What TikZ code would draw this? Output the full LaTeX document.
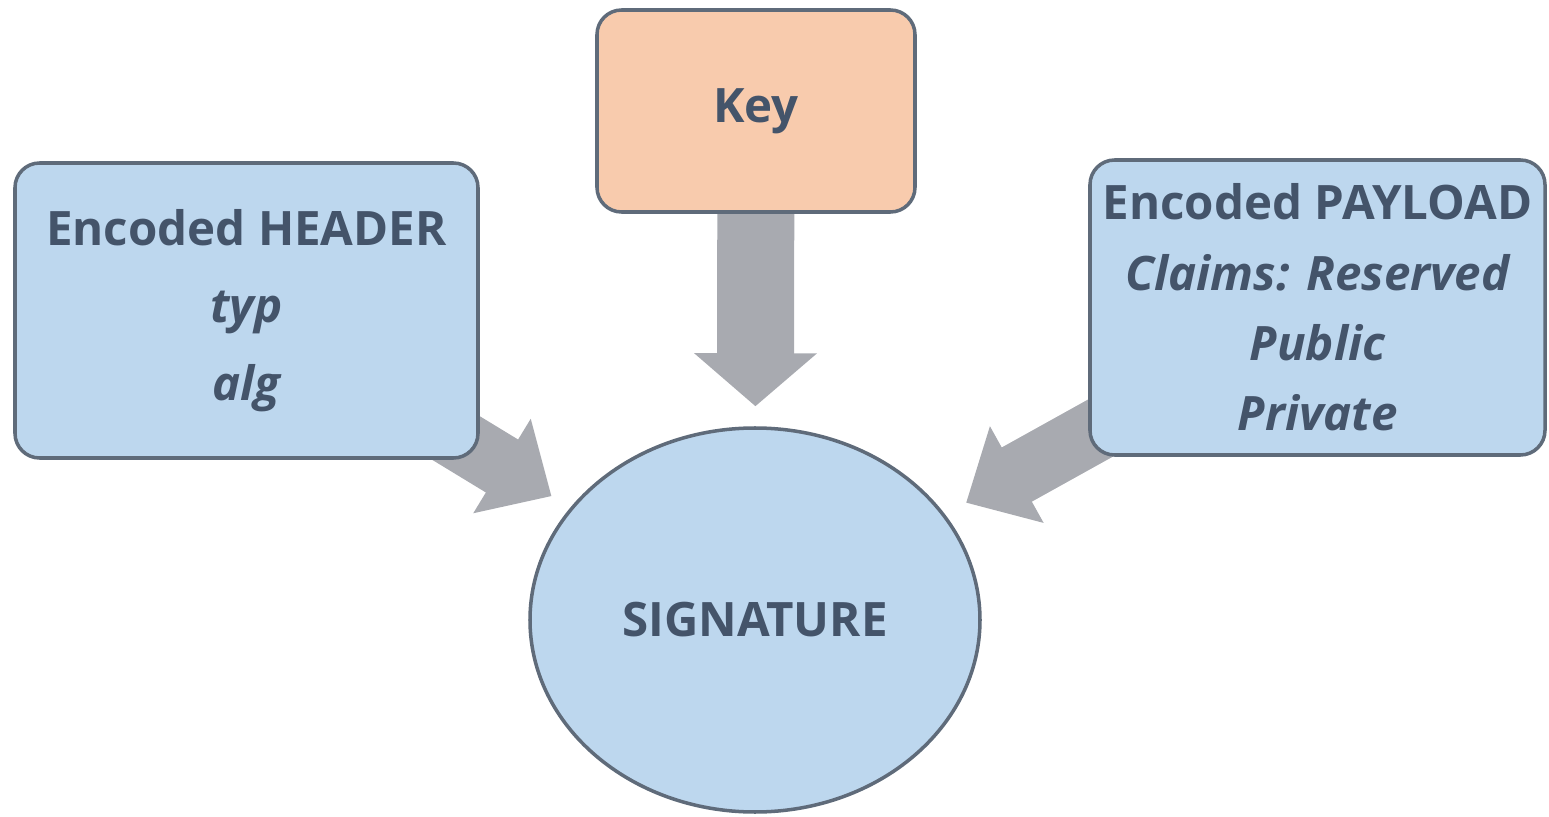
\documentclass[tikz,border=0pt]{standalone}
\usepackage{fontspec}
\setmainfont{Open Sans}
\usetikzlibrary{arrows.meta, backgrounds, shapes.geometric}
\definecolor{boxblue}{HTML}{BDD7EE}
\definecolor{keypeach}{HTML}{F8CBAD}
\definecolor{edgegray}{HTML}{5F6B7A}
\definecolor{textslate}{HTML}{44546A}
\definecolor{arrowgray}{HTML}{A8AAB0}

\begin{document}
\begin{tikzpicture}[
    box/.style={
        rectangle, rounded corners=7pt,
        draw=edgegray, line width=1pt, fill=#1,
        font=\bfseries\fontsize{13.5}{20}\selectfont, text=textslate, align=center
    },
    bigarrow/.style n args={4}{
        line width=#1, draw=arrowgray,
        -{Triangle[width=#2, length=#3]}, shorten >=#4
    }
]
\useasboundingbox (0,0) rectangle (15.49,8.16);

% Nodes
\node[box=boxblue, minimum width=4.63cm, minimum height=2.95cm] (header) at (2.465,5.055)
    {Encoded HEADER\\[2pt] \itshape typ\\[2pt] \itshape alg};

\node[box=keypeach, minimum width=3.18cm, minimum height=2.02cm] (key) at (7.56,7.05) {Key};

\node[box=boxblue, minimum width=4.55cm, minimum height=2.95cm] (payload) at (13.175,5.085)
    {Encoded PAYLOAD\\ \itshape Claims: Reserved\\ \itshape Public\\ \itshape Private};

\node[box=boxblue, ellipse, rounded corners=0pt, inner sep=0pt, minimum width=4.5cm, minimum height=3.84cm] (sig) at (7.55,1.96) {SIGNATURE};

% Block arrows behind the boxes
\begin{scope}[on background layer]
\draw[bigarrow={0.77cm}{1.2cm}{0.53cm}{0.2cm}] (key.center) -- (sig);
\draw[bigarrow={0.62cm}{1.07cm}{0.58cm}{0.22cm}] (header.center) -- (sig);
\draw[bigarrow={0.62cm}{1.07cm}{0.58cm}{0.24cm}] (payload.center) -- (sig);
\end{scope}

\end{tikzpicture}
\end{document}
